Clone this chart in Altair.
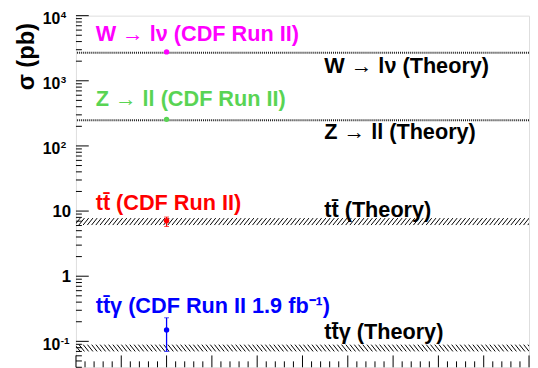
import altair as alt
import numpy as np
import pandas as pd

# ---------------- data ----------------
# CDF Run II measurements (pb)
meas_name = ["W->lnu", "Z->ll", "ttbar", "ttbar-gamma"]
meas_x = [0.2, 0.2, 0.2, 0.2]
meas_val = [2775, 256, 7.1, 0.15]
meas_lo = [2775, 256, 5.8, 0.07]
meas_hi = [2775, 256, 8.1, 0.23]
meas_color = ["#ff00ff", "#59d454", "#ff0000", "#0000ff"]

# theory bands (pb)
theory_name = ["W->lnu", "Z->ll", "ttbar", "ttbar-gamma"]
theory_lo = [2630, 243, 6.1, 0.070]
theory_hi = [2745, 253, 7.8, 0.089]
theory_hatch = ["thin", "thin", "/", "\\"]

# annotation texts
label_text = [
    "W \u2192 l\u03bd (CDF Run II)",
    "W \u2192 l\u03bd (Theory)",
    "Z \u2192 ll (CDF Run II)",
    "Z \u2192 ll (Theory)",
    "tt\u0304 (CDF Run II)",
    "tt\u0304 (Theory)",
    "tt\u0304\u03b3 (CDF Run II 1.9 fb\u207b\u00b9)",
    "tt\u0304\u03b3 (Theory)",
]
label_x = [0.0435, 0.548, 0.0435, 0.548, 0.0435, 0.548, 0.0435, 0.548]
label_y = [4115, 1305, 406, 128.8, 10.5, 8.24, 0.272, 0.107]
label_color = ["#ff00ff", "#000000", "#59d454", "#000000",
               "#ff0000", "#000000", "#0000ff", "#000000"]

# axis ticks and tick labels
y_major = [10000, 1000, 100, 10, 1, 0.1]
y_base = ["10", "10", "10", "10", "1", "10"]
y_exp = ["4", "3", "2", "", "", "-1"]
y_minor = [m * 10.0 ** k for k in range(-2, 4) for m in range(2, 10)
           if 0.04 <= m * 10.0 ** k <= 10000]
x_major = [round(i * 0.1, 2) for i in range(11)]
x_minor = [round(i * 0.02, 2) for i in range(51) if i % 5 != 0]

# ---------------- geometry ----------------
W, H = 460, 357
YMIN, YMAX = 0.04, 10000
FONT = "Liberation Sans"

xs = alt.Scale(domain=[0, 1], nice=False, zero=False)
ys = alt.Scale(type="log", domain=[YMIN, YMAX], nice=False)

yaxis = alt.Axis(values=y_major, labels=False, ticks=False, domain=False, grid=False,
                 title="\u03c3 (pb)", titleFont=FONT, titleFontWeight="bold",
                 titleFontSize=24, titleColor="black", titleAngle=270,
                 titleAlign="right", titleBaseline="alphabetic",
                 titleX=-43, titleY=7)


def Y(field):
    return alt.Y(field, type="quantitative", scale=ys, axis=yaxis)


def X(field):
    return alt.X(field, type="quantitative", scale=xs, axis=None)


meas = pd.DataFrame({"name": meas_name, "x": meas_x, "v": meas_val,
                     "lo": meas_lo, "hi": meas_hi, "c": meas_color})
err = meas[meas["hi"] > meas["lo"]]
labels = pd.DataFrame({"t": label_text, "x": label_x, "y": label_y, "c": label_color})
ylab = pd.DataFrame({"v": y_major, "b": y_base, "e": y_exp})
ylab_exp = ylab[ylab["e"] != ""]
ylab_plain = ylab[ylab["e"] == ""]

# hatch segments for theory bands (decoration derived from band edges)
px_per_dec = H / np.log10(YMAX / YMIN)
spacing = 4.3 / W
rows = []
thin = []
for lo, hi, style in zip(theory_lo, theory_hi, theory_hatch):
    if style == "thin":
        thin.append({"v": float(np.sqrt(lo * hi))})
        continue
    h_px = np.log10(hi / lo) * px_per_dec
    dx = h_px * 0.8 / W
    for xi in np.arange(-dx, 1 + spacing, spacing):
        if style == "/":
            rows.append({"x": xi, "x2": xi + dx, "y": lo, "y2": hi})
        else:
            rows.append({"x": xi, "x2": xi + dx, "y": hi, "y2": lo})
hatch = pd.DataFrame(rows)
thin = pd.DataFrame(thin)

# ---------------- layers ----------------
hatch_layer = alt.Chart(hatch).mark_rule(color="black", strokeWidth=1, clip=True).encode(
    x=X("x"), x2="x2", y=Y("y"), y2="y2")

thin_layer = alt.Chart(thin).mark_rule(color="#222222", strokeWidth=2,
                                        strokeDash=[1, 1]).encode(y=Y("v"))

ymaj = alt.Chart(pd.DataFrame({"v": y_major})).mark_rule(color="black", strokeWidth=1).encode(
    y=Y("v"), x=alt.value(0), x2=alt.value(13))
ymin_ = alt.Chart(pd.DataFrame({"v": y_minor})).mark_rule(color="black", strokeWidth=1).encode(
    y=Y("v"), x=alt.value(0), x2=alt.value(6))
xmaj = alt.Chart(pd.DataFrame({"v": x_major})).mark_rule(color="black", strokeWidth=1).encode(
    x=X("v"), y=alt.value(H), y2=alt.value(H - 12))
xmin_ = alt.Chart(pd.DataFrame({"v": x_minor})).mark_rule(color="black", strokeWidth=1).encode(
    x=X("v"), y=alt.value(H), y2=alt.value(H - 6))

ybase_e = alt.Chart(ylab_exp).mark_text(align="right", baseline="middle", font=FONT,
                                        fontWeight="bold", fontSize=16, dy=3.5,
                                        color="black").encode(
    y=Y("v"), x=alt.value(-16), text="b:N")
yexp = alt.Chart(ylab_exp).mark_text(align="left", baseline="middle", font=FONT,
                                     fontWeight="bold", fontSize=10, dy=-0.5,
                                     color="black").encode(
    y=Y("v"), x=alt.value(-15.5), text="e:N")
ybase_p = alt.Chart(ylab_plain).mark_text(align="right", baseline="middle", font=FONT,
                                          fontWeight="bold", fontSize=17, dy=1,
                                          color="black").encode(
    y=Y("v"), x=alt.value(-5), text="b:N")

err_layer = alt.Chart(err).mark_rule(strokeWidth=1.3).encode(
    x=X("x"), y=Y("lo"), y2="hi", color=alt.Color("c:N", scale=None))
cap_lo = alt.Chart(err).mark_tick(orient="horizontal", size=5, thickness=1).encode(
    x=X("x"), y=Y("lo"), color=alt.Color("c:N", scale=None))
cap_hi = alt.Chart(err).mark_tick(orient="horizontal", size=5, thickness=1).encode(
    x=X("x"), y=Y("hi"), color=alt.Color("c:N", scale=None))
pts = alt.Chart(meas).mark_circle(size=30, opacity=1).encode(
    x=X("x"), y=Y("v"), color=alt.Color("c:N", scale=None))

txt = alt.Chart(labels).mark_text(align="left", baseline="alphabetic", font=FONT,
                                  fontWeight="bold", fontSize=22).encode(
    x=X("x"), y=Y("y"), text="t:N", color=alt.Color("c:N", scale=None))

chart = alt.layer(hatch_layer, thin_layer, ymaj, ymin_, xmaj, xmin_,
                  ybase_e, yexp, ybase_p,
                  err_layer, cap_lo, cap_hi, pts, txt).properties(
    width=W, height=H,
    autosize=alt.AutoSizeParams(type="none"),
    padding={"left": 69, "top": 5, "right": 1, "bottom": 0},
).configure_view(stroke="black", strokeWidth=1).configure(background="white")

chart.save("out.html", embed_options={"renderer": "svg", "actions": False})
